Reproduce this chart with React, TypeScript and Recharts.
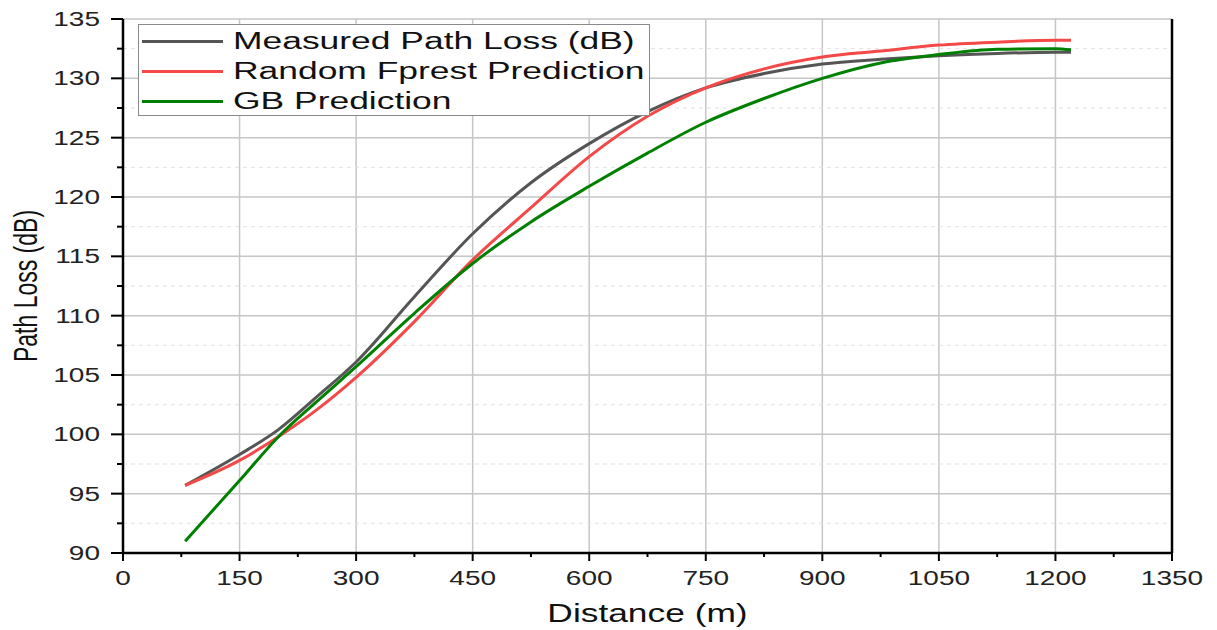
import React from "react";
import {
  CartesianGrid,
  Label,
  Legend,
  Line,
  LineChart,
  XAxis,
  YAxis,
} from "recharts";

const distance = [80, 150, 200, 250, 300, 375, 450, 525, 600, 675, 750, 825, 900, 975, 1050, 1125, 1200, 1220];
const measured = [95.7, 98.3, 100.4, 103.2, 106.1, 111.6, 116.9, 121.2, 124.5, 127.2, 129.2, 130.4, 131.2, 131.6, 131.9, 132.1, 132.2, 132.2];
const randomForest = [95.7, 97.8, 99.8, 102.1, 104.8, 109.5, 114.7, 119.1, 123.4, 126.8, 129.2, 130.8, 131.8, 132.3, 132.8, 133.05, 133.2, 133.2];
const gbPrediction = [91.0, 96.1, 99.8, 102.8, 105.7, 110.2, 114.4, 117.9, 120.9, 123.7, 126.3, 128.3, 130.0, 131.3, 132.0, 132.45, 132.5, 132.4];

const xMajor = [0, 150, 300, 450, 600, 750, 900, 1050, 1200, 1350];
const xMinor = [75, 225, 375, 525, 675, 825, 975, 1125, 1275];
const yMajor = [90, 95, 100, 105, 110, 115, 120, 125, 130, 135];
const yMinor = [92.5, 97.5, 102.5, 107.5, 112.5, 117.5, 122.5, 127.5, 132.5];

const xTicks = [...xMajor, ...xMinor].sort((a, b) => a - b);
const yTicks = [...yMajor, ...yMinor].sort((a, b) => a - b);

const series = [
  { key: "measured", name: "Measured Path Loss (dB)", color: "#555555" },
  { key: "rf", name: "Random Fprest Prediction", color: "#f54848" },
  { key: "gb", name: "GB Prediction", color: "#008000" },
];

const data = distance.map((d, i) => ({
  d,
  measured: measured[i],
  rf: randomForest[i],
  gb: gbPrediction[i],
}));

const FONT = "'Liberation Sans', Arial, sans-serif";
const STRETCH = 1.4; // the original picture is stretched sideways

const isMajor = (list: number[], v: number) => list.includes(v);

function BottomTick({ x, y, payload }: any) {
  const major = isMajor(xMajor, payload.value);
  return (
    <g>
      <line x1={x} x2={x} y1={y} y2={y + (major ? 8 : 4)} stroke="#000" strokeWidth={2} />
      {major && (
        <text
          transform={`translate(${x},${y + 32}) scale(${STRETCH},1)`}
          textAnchor="middle"
          fontSize={20}
          fontFamily={FONT}
          fill="#222"
        >
          {payload.value}
        </text>
      )}
    </g>
  );
}

function TopTick({ x, y, payload }: any) {
  const major = isMajor(xMajor, payload.value);
  return <line x1={x} x2={x} y1={y} y2={y + (major ? 8 : 4)} stroke="#000" strokeWidth={2} />;
}

function LeftTick({ x, y, payload }: any) {
  const major = isMajor(yMajor, payload.value);
  return (
    <g>
      <line x1={x - (major ? 12 : 6)} x2={x} y1={y} y2={y} stroke="#000" strokeWidth={2} />
      {major && (
        <text
          transform={`translate(${x - 23},${y + 7}) scale(${STRETCH},1)`}
          textAnchor="end"
          fontSize={20}
          fontFamily={FONT}
          fill="#222"
        >
          {payload.value}
        </text>
      )}
    </g>
  );
}

function RightTick({ x, y, payload }: any) {
  const major = isMajor(yMajor, payload.value);
  return <line x1={x - (major ? 13 : 7)} x2={x} y1={y} y2={y} stroke="#000" strokeWidth={2} />;
}

function XTitle({ viewBox }: any) {
  const { x, y, width } = viewBox;
  return (
    <text
      transform={`translate(${x + width / 2},${y + 69}) scale(1.36,1)`}
      textAnchor="middle"
      fontSize={26}
      fontFamily={FONT}
      fill="#111"
    >
      Distance (m)
    </text>
  );
}

function YTitle({ viewBox }: any) {
  const { x, y, height } = viewBox;
  return (
    <text
      transform={`translate(${x + 37},${y + height / 2}) scale(1.42,1) rotate(-90)`}
      textAnchor="middle"
      fontSize={23}
      fontFamily={FONT}
      fill="#111"
    >
      Path Loss (dB)
    </text>
  );
}

function LegendBox({ payload }: any) {
  // keep the series order (Recharts sorts legend items by name)
  const items = [...(payload || [])].sort(
    (a: any, b: any) =>
      series.findIndex((s) => s.name === a.value) - series.findIndex((s) => s.name === b.value)
  );
  return (
    <div
      style={{
        border: "1.5px solid #8a8a8a",
        background: "#fff",
        width: 512,
        height: 92,
        boxSizing: "border-box",
        paddingTop: 1,
      }}
    >
      {items.map((p: any) => (
        <div key={p.value} style={{ display: "flex", alignItems: "center", height: 30 }}>
          <span style={{ width: 81, height: 3, background: p.color, marginLeft: 3, flex: "none" }} />
          <span
            style={{
              marginLeft: 10,
              fontSize: 23,
              fontFamily: FONT,
              color: "#111",
              lineHeight: 1,
              whiteSpace: "nowrap",
              transform: "scaleX(1.54)",
              transformOrigin: "left center",
            }}
          >
            {p.value}
          </span>
        </div>
      ))}
    </div>
  );
}

export default function App() {
  return (
    <div style={{ position: "absolute", left: 0, top: 0, width: 1217, height: 630, background: "#fff" }}>
      <LineChart width={1217} height={630} data={data} margin={{ top: 19, right: 0, bottom: 0, left: 0 }}>
        <CartesianGrid
          stroke="#c6c6c6"
          strokeWidth={1.5}
          verticalValues={xMajor}
          horizontalValues={yMajor}
        />
        <CartesianGrid
          stroke="#e2e2e2"
          strokeWidth={1}
          strokeDasharray="4 4"
          vertical={false}
          horizontalValues={yMinor}
        />
        <XAxis
          dataKey="d"
          type="number"
          domain={[0, 1350]}
          ticks={xTicks}
          interval={0}
          height={77}
          tickSize={0}
          tickMargin={0}
          tickLine={false}
          tick={<BottomTick />}
          axisLine={{ stroke: "#000", strokeWidth: 2.5 }}
        >
          <Label content={<XTitle />} />
        </XAxis>
        <XAxis
          xAxisId="top"
          orientation="top"
          dataKey="d"
          type="number"
          domain={[0, 1350]}
          ticks={xTicks}
          interval={0}
          height={0}
          tickSize={0}
          tickMargin={0}
          tickLine={false}
          tick={<TopTick />}
          axisLine={{ stroke: "#000", strokeWidth: 2.5 }}
        />
        <YAxis
          type="number"
          domain={[90, 135]}
          ticks={yTicks}
          interval={0}
          width={123}
          tickSize={0}
          tickMargin={0}
          tickLine={false}
          tick={<LeftTick />}
          axisLine={{ stroke: "#000", strokeWidth: 2.5 }}
        >
          <Label content={<YTitle />} />
        </YAxis>
        <YAxis
          yAxisId="right"
          orientation="right"
          type="number"
          domain={[90, 135]}
          ticks={yTicks}
          interval={0}
          width={45}
          tickSize={0}
          tickMargin={0}
          tickLine={false}
          tick={<RightTick />}
          axisLine={{ stroke: "#000", strokeWidth: 2.5 }}
        />
        <Legend
          layout="horizontal"
          verticalAlign="middle"
          align="center"
          content={<LegendBox />}
          wrapperStyle={{ position: "absolute", left: 138, top: 24, width: 512, height: 92 }}
        />
        {series.map((s) => (
          <Line
            key={s.key}
            type="monotone"
            dataKey={s.key}
            name={s.name}
            stroke={s.color}
            strokeWidth={3}
            dot={false}
            isAnimationActive={false}
          />
        ))}
      </LineChart>
    </div>
  );
}
